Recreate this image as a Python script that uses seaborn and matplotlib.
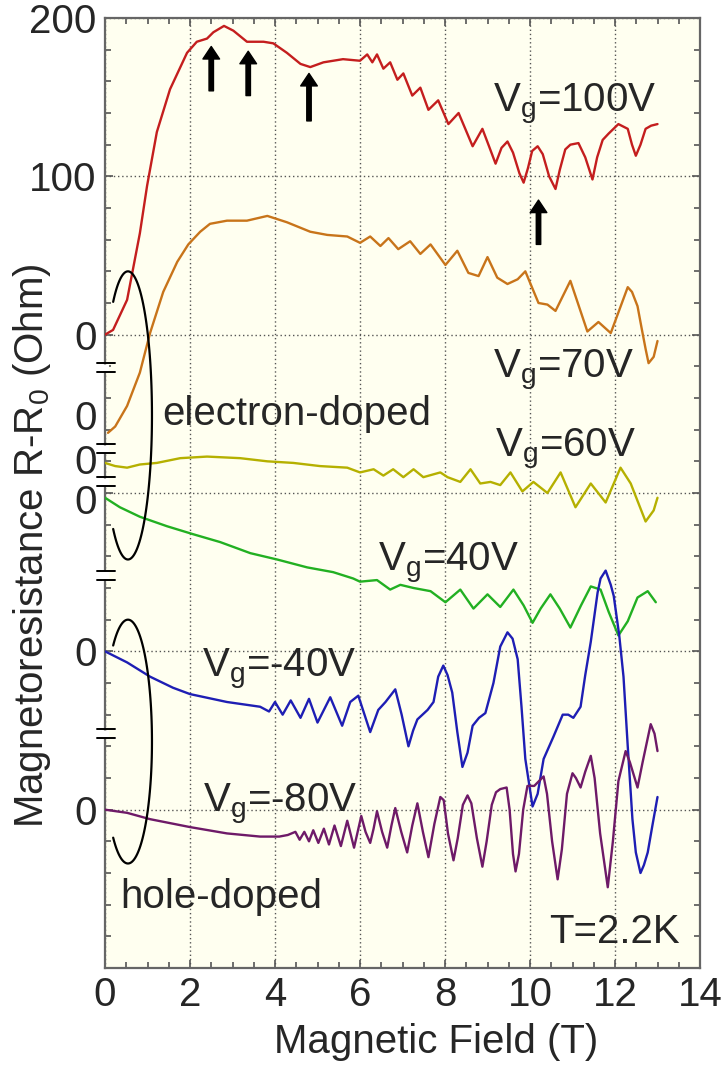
import numpy as np
import pandas as pd
import matplotlib
matplotlib.use('Agg')
from matplotlib import pyplot as plt
from matplotlib.ticker import MultipleLocator
import seaborn as sns

# curves: field (T) and R-R0 (Ohm), each with its own zero
B_100 = [0, 0.19, 0.52, 0.82, 0.99, 1.22, 1.53, 1.93, 2.16, 2.4, 2.55, 2.8, 3.02, 3.34, 3.73, 3.96,
         4.28, 4.6, 4.83, 5.14, 5.6, 6.0, 6.17, 6.29, 6.4, 6.55, 6.71, 6.88, 7.02, 7.23, 7.42, 7.61,
         7.84, 8.08, 8.32, 8.65, 8.88, 9.05, 9.19, 9.33, 9.47, 9.6, 9.75, 9.85, 9.95, 10.05, 10.18,
         10.3, 10.45, 10.6, 10.7, 10.83, 10.95, 11.14, 11.3, 11.47, 11.58, 11.71, 11.85, 12.08,
         12.3, 12.4, 12.49, 12.6, 12.72, 12.85, 13.0]
R_100 = [0, 3, 22, 64, 94, 128, 155, 178, 185, 187, 191, 195, 192, 185, 185, 184,
         178, 171, 169, 172, 174, 173, 177, 172, 177, 168, 172, 161, 165, 151, 156, 142,
         148, 133, 140, 119, 130, 118, 108, 118, 122, 115, 102, 96, 105, 116, 119,
         114, 100, 92, 104, 117, 120, 121, 112, 98, 112, 123, 127, 133,
         130, 120, 113, 120, 130, 132, 133]

B_70 = [0.07, 0.24, 0.52, 0.82, 1.06, 1.37, 1.7, 1.96, 2.24, 2.47, 2.87, 3.34, 3.82, 4.28, 4.83,
        5.23, 5.7, 6.0, 6.24, 6.48, 6.67, 6.9, 7.18, 7.42, 7.66, 8.01, 8.29, 8.55, 8.79, 9.0, 9.23,
        9.47, 9.71, 9.89, 10.2, 10.41, 10.6, 10.95, 11.35, 11.61, 11.9, 12.3, 12.4, 12.53, 12.62,
        12.72, 12.79, 12.91, 13.0]
R_70 = [-9, -5, 8, 29, 54, 80, 99, 110, 118, 123, 125, 125, 128, 124, 118,
        116, 115, 111, 115, 109, 114, 107, 112, 104, 110, 97, 106, 92, 90, 102, 89,
        85, 88, 93, 73, 72, 68, 87, 55, 61, 54, 83, 80, 71, 58,
        44, 35, 39, 49]

B_60 = [0, 0.24, 0.52, 0.82, 1.22, 1.77, 2.4, 3.18, 3.82, 4.43, 5.06, 5.7, 6.0, 6.32, 6.55, 6.78,
        7.02, 7.26, 7.49, 7.89, 8.06, 8.36, 8.6, 8.83, 9.07, 9.3, 9.54, 9.82, 10.08, 10.41, 10.72,
        11.07, 11.43, 11.78, 12.13, 12.37, 12.72, 12.91, 13.0]
R_60 = [0, -2, -3, -1, 0, 3, 4, 3, 1, 0, -2, -3, -6, -4, -8, -4,
        -9, -4, -9, -6, -9, -12, -4, -13, -12, -14, -6, -18, -12, -19, -6,
        -28, -13, -25, -3, -13, -37, -30, -22]

B_40 = [0, 0.35, 0.82, 1.46, 2.07, 2.71, 3.42, 4.05, 4.76, 5.37, 5.84, 6.0, 6.4, 6.71, 6.95, 7.26,
        7.66, 8.01, 8.36, 8.67, 9.0, 9.3, 9.61, 9.85, 10.06, 10.25, 10.48, 10.7, 10.95, 11.2, 11.43,
        11.66, 11.85, 12.08, 12.3, 12.53, 12.77, 12.96]
R_40 = [0, -6, -12, -18, -23, -28, -35, -39, -44, -47, -51, -53, -52, -58, -55, -57,
        -59, -66, -58, -70, -61, -69, -58, -68, -79, -70, -61, -70, -82, -68, -56,
        -58, -72, -87, -78, -63, -59, -66]

B_m40 = [0, 0.52, 1.06, 1.6, 2.0, 2.87, 3.65, 3.86, 4.0, 4.18, 4.37, 4.6, 4.8, 5.0, 5.3, 5.58, 5.77,
         5.96, 6.24, 6.43, 6.6, 6.83, 6.98, 7.14, 7.25, 7.35, 7.59, 7.73, 7.84, 7.96, 8.06, 8.17,
         8.29, 8.41, 8.53, 8.65, 8.8, 8.95, 9.14, 9.3, 9.47, 9.59, 9.71, 9.8, 9.89, 10.06, 10.18,
         10.32, 10.55, 10.77, 10.9, 11.02, 11.19, 11.3, 11.43, 11.59, 11.66, 11.78, 11.9, 11.97,
         12.1, 12.2, 12.3, 12.41, 12.49, 12.6, 12.68, 12.77, 12.88, 13.0]
R_m40 = [0, -7, -16, -23, -27, -32, -35, -38, -32, -40, -31, -42, -30, -45, -29, -47, -32,
         -28, -51, -37, -32, -24, -40, -60, -50, -43, -37, -32, -16, -9, -15, -26,
         -51, -73, -64, -47, -42, -39, -20, 3, 12, 8, -5, -35, -68, -98, -90,
         -68, -54, -40, -40, -42, -35, -15, 6, 37, 46, 51, 42, 35,
         10, -16, -60, -106, -127, -140, -135, -127, -110, -92]

B_m80 = [0, 0.52, 1.06, 2.0, 2.87, 3.65, 4.1, 4.3, 4.48, 4.58, 4.69, 4.8, 4.9, 5.02, 5.15, 5.27,
         5.4, 5.55, 5.7, 5.86, 6.03, 6.13, 6.24, 6.32, 6.4, 6.52, 6.64, 6.74, 6.83, 6.97, 7.11,
         7.23, 7.35, 7.48, 7.61, 7.75, 7.89, 7.97, 8.07, 8.2, 8.3, 8.42, 8.53, 8.62, 8.75, 8.88,
         8.98, 9.1, 9.2, 9.3, 9.45, 9.52, 9.6, 9.66, 9.74, 9.84, 9.94, 10.1, 10.32, 10.4, 10.52,
         10.65, 10.75, 10.87, 11.0, 11.08, 11.19, 11.3, 11.43, 11.52, 11.65, 11.83, 11.95, 12.08,
         12.25, 12.35, 12.53, 12.65, 12.84, 12.93, 13.0]
R_m80 = [0, -2, -6, -11, -15, -17, -17, -16, -14, -19, -14, -20, -13, -21, -12, -22,
         -10, -23, -7, -24, -4, -14, -21, -12, -1, -14, -24, -10, 1, -14, -27,
         -10, 4, -14, -30, -9, 8, 6, -15, -32, -18, 3, 9, 4, -18, -36,
         -20, 3, 11, 13, 14, 0, -28, -39, -28, 0, 15, 15, 21, 10, -20,
         -44, -25, 10, 23, 20, 14, 24, 34, 20, -15, -49, -20, 18,
         37, 30, 14, 30, 54, 48, 37]

curve_names = ['100V', '70V', '60V', '40V', '-40V', '-80V']
curve_B = [B_100, B_70, B_60, B_40, B_m40, B_m80]
curve_R = [R_100, R_70, R_60, R_40, R_m40, R_m80]
offsets = [0, -53, -81, -103, -200, -300]
colors = ['#c41e1e', '#c8741a', '#b5b000', '#22b022', '#1e1eb4', '#6e1a68']

label_text = ['V$_\\mathrm{g}$=100V', 'V$_\\mathrm{g}$=70V', 'V$_\\mathrm{g}$=60V',
              'V$_\\mathrm{g}$=40V', 'V$_\\mathrm{g}$=-40V', 'V$_\\mathrm{g}$=-80V']
label_x = [9.14, 9.14, 9.18, 6.43, 2.28, 2.31]
label_y = [141, -27, -77, -149, -216, -301]

# arrows marking features (x, tip, tail)
arrow_x = [2.5, 3.37, 4.8, 10.2]
arrow_tip = [182, 179, 165, 85]
arrow_tail = [154, 151, 135, 57]

extra_zero_y = [-53, -81, -106]
break_y = [-21, -72, -93, -152, -252]

rows = []
for name, bb, rr, off in zip(curve_names, curve_B, curve_R, offsets):
    for b, r in zip(bb, rr):
        rows.append({'B': b, 'R': r, 'shifted': r + off, 'curve': name})
df = pd.DataFrame(rows)

sns.set_style('ticks')
plt.rcParams['font.family'] = ['Liberation Sans', 'DejaVu Sans']
plt.rcParams['mathtext.fontset'] = 'custom'
plt.rcParams['mathtext.rm'] = 'Liberation Sans'
plt.rcParams['mathtext.it'] = 'Liberation Sans:italic'

fs = 29
fig = plt.figure(figsize=(7.24, 10.66), dpi=100)
ax = fig.add_axes([105 / 724, 1 - 968 / 1066, 595 / 724, 950 / 1066])
ax.set_facecolor('#fffff0')

sns.lineplot(data=df, x='B', y='shifted', hue='curve', palette=dict(zip(curve_names, colors)),
             sort=False, estimator=None, legend=False, lw=1.7, ax=ax, zorder=3)

ax.set_xlim(0, 14)
ax.set_ylim(-400, 200)
ax.set_xticks(range(0, 15, 2))
ax.xaxis.set_minor_locator(MultipleLocator(0.5))
ax.set_yticks([200, 100, 0, -100, -200, -300], ['200', '100', '0', '', '0', '0'])
ax.yaxis.set_minor_locator(MultipleLocator(20))
ax.grid(True, which='major', color='#555555', ls=(0, (1, 2)), lw=1.0)
ax.tick_params(which='both', direction='in', top=True, right=True, color='#555555',
               labelsize=fs, width=1.2)
ax.tick_params(which='major', length=6, pad=6)
ax.tick_params(which='minor', length=4)
for sp in ax.spines.values():
    sp.set_color('#666666')
    sp.set_linewidth(1.6)

ax.set_xlabel('Magnetic Field (T)', fontsize=fs)
ax.set_ylabel('Magnetoresistance R-R$_\\mathrm{0}$ (Ohm)', fontsize=fs)
ax.xaxis.set_label_coords(0.556, -0.058)
ax.yaxis.set_label_coords(-0.088, 0.445)

ytr = ax.get_yaxis_transform()
for y in extra_zero_y:
    ax.text(-0.014, y, '0', transform=ytr, ha='right', va='center', fontsize=fs)

# axis break marks
for y in break_y:
    ax.plot([0, 0], [y - 2.6, y + 2.6], transform=ytr, color='white', lw=5,
            clip_on=False, zorder=6, solid_capstyle='butt')
    for dy in (-2.8, 2.8):
        ax.plot([-0.014, 0.016], [y + dy, y + dy], transform=ytr, color='black', lw=1.4,
                clip_on=False, zorder=7)

for txt, x, y in zip(label_text, label_x, label_y):
    ax.text(x, y, txt, fontsize=fs, va='baseline', ha='left')
ax.text(1.34, -57, 'electron-doped', fontsize=fs, va='baseline', ha='left')
ax.text(0.35, -362, 'hole-doped', fontsize=fs, va='baseline', ha='left')
ax.text(10.44, -384, 'T=2.2K', fontsize=fs, va='baseline', ha='left')

for x, tip, tail in zip(arrow_x, arrow_tip, arrow_tail):
    ax.annotate('', xy=(x, tip), xytext=(x, tail),
                arrowprops=dict(width=3.2, headwidth=12, headlength=9, color='black', shrink=0))

# brackets grouping electron- and hole-doped traces
t = np.deg2rad(np.linspace(-128, 128, 120))
for cy, h in ((-51, 91), (-257, 77)):
    ax.plot(0.54 + 0.565 * np.cos(t), cy + h * np.sin(t), color='black', lw=1.6, zorder=4)

fig.savefig('out.png', dpi=100, facecolor='white')
